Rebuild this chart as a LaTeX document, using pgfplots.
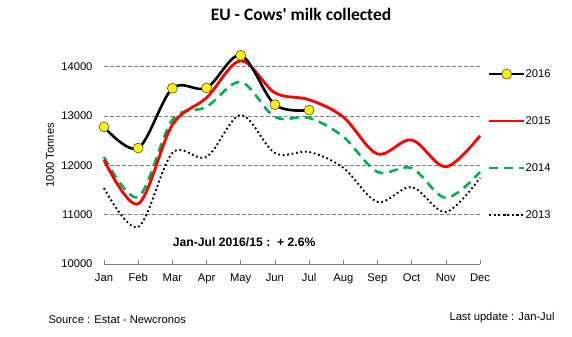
\documentclass[border=0pt]{standalone}
\usepackage{fontspec}
\setmainfont{Liberation Sans}
\newfontfamily\calibri{Carlito}
\usepackage{pgfplots}
\pgfplotsset{compat=1.18}
\definecolor{xlgreen}{RGB}{0,176,80}
\definecolor{gridgray}{RGB}{128,128,128}
\begin{document}
\begin{tikzpicture}[font=\fontsize{11.2bp}{13bp}\selectfont]
\begin{axis}[
  scale only axis,
  width=376bp, height=222bp,
  xmin=0, xmax=11, ymin=10000, ymax=14500,
  axis x line*=bottom, axis y line*=left,
  axis line style={-, gridgray},
  y axis line style={draw=none},
  ytick={10000,11000,12000,13000,14000},
  scaled y ticks=false,
  ytick style={draw=none},
  ymajorgrids, grid style={gridgray, dash pattern=on 4bp off 2bp, line width=0.6bp},
  xtick={0,...,11},
  xticklabels={Jan,Feb,Mar,Apr,May,Jun,Jul,Aug,Sep,Oct,Nov,Dec},
  xtick align=inside, xtick style={gridgray, line width=0.6bp}, major tick length=4bp,
  xticklabel style={yshift=-6bp},
  yticklabel style={xshift=-8bp},
  /pgf/number format/assume math mode=true,
  /pgf/number format/1000 sep={},
  ylabel={1000 Tonnes},
  ylabel style={at={(axis description cs:-0.1436,0.49)}, anchor=center, rotate=0},
  legend style={draw=none, fill=none, at={(rel axis cs:1.021,0.878)}, anchor=north west,
    inner sep=0pt, outer sep=0pt, row sep=37bp,
    nodes={inner sep=0pt, text height=8bp, text depth=2bp, anchor=west}},
  legend cell align=left,
  /tikz/every even column/.append style={column sep=3bp},
  legend image code/.code={\draw[mark repeat=2,mark phase=2,#1] plot coordinates {(0bp,0bp) (17.5bp,0bp) (35bp,0bp)};},
  reverse legend,
  clip=false,
]
\addplot[black, dash pattern=on 1.8bp off 2.7bp, line width=1.9bp, smooth, tension=0.55] coordinates {
(0,11540)(1,10750)(2,12250)(3,12170)(4,13020)(5,12250)(6,12270)(7,11950)(8,11260)(9,11560)(10,11055)(11,11745)};
\addlegendentry{2013}
\addplot[xlgreen, dash pattern=on 9bp off 6bp, line width=2.6bp, smooth, tension=0.55] coordinates {
(0,12170)(1,11360)(2,12920)(3,13185)(4,13690)(5,12980)(6,12960)(7,12580)(8,11865)(9,11945)(10,11340)(11,11865)};
\addlegendentry{2014}
\addplot[red, line width=2.8bp, smooth, tension=0.55] coordinates {
(0,12110)(1,11220)(2,12820)(3,13370)(4,14120)(5,13470)(6,13330)(7,12980)(8,12230)(9,12515)(10,11970)(11,12600)};
\addlegendentry{2015}
\addplot[black, line width=2.6bp, smooth, tension=0.55, mark=*, mark size=5bp,
  mark options={fill=yellow, draw=black!70, line width=0.6bp, solid}] coordinates {
(0,12780)(1,12350)(2,13560)(3,13570)(4,14230)(5,13230)(6,13120)};
\addlegendentry{2016}
\coordinate (O) at (rel axis cs:0,0);
\node[font=\calibri\bfseries\fontsize{17.5bp}{19bp}\selectfont] at (rel axis cs:0.524,1.122) {EU - Cows' milk collected};
\node[font=\bfseries\fontsize{12.2bp}{14bp}\selectfont] at (axis cs:4.1,10446) {Jan-Jul 2016/15 :\ \ + 2.6\%};
\end{axis}
\node[anchor=west] at ([xshift=-59bp,yshift=-56bp]O) {Source : Estat - Newcronos};
\node[anchor=west] at ([xshift=342bp,yshift=-54bp]O) {Last update : Jan-Jul};
\path[use as bounding box] ([xshift=-104bp,yshift=-73bp]O) rectangle ([xshift=468bp,yshift=264bp]O);
\end{tikzpicture}
\end{document}
